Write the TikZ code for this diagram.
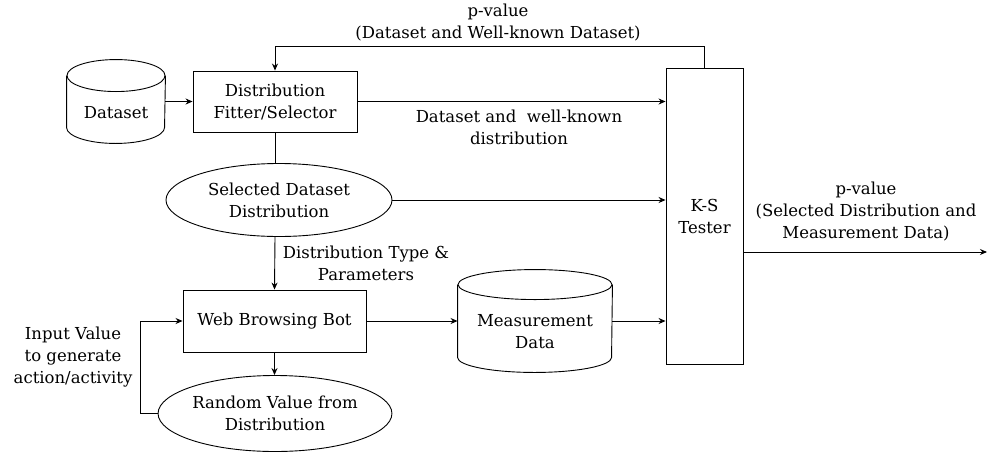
\documentclass[tikz,border=0pt]{standalone}
\usepackage{fontspec}
\setmainfont{DejaVu Serif}
\usetikzlibrary{shapes.geometric,arrows.meta}

\tikzset{
    every node/.style={font=\fontsize{16.5}{22}\selectfont, align=center},
    box/.style={draw, rectangle, inner sep=0pt},
    oval/.style={draw, ellipse, inner sep=0pt},
    dbbox/.style={rectangle, inner sep=0pt},
    flow/.style={-{Stealth[length=7pt,width=6pt]}, line width=0.9pt},
    plain/.style={line width=0.9pt},
}

\begin{document}
\begin{tikzpicture}[x=1pt, y=-1pt, line width=0.9pt]
    % canvas in pixels of the 987 x 453 sketch
    \useasboundingbox (0,0) rectangle (987,453);

    % Blocks
    \node[dbbox, minimum width=98pt, minimum height=83pt] (dataset) at (116,101.5) {};
    \node[box, minimum width=164pt, minimum height=61pt] (fitter) at (275,101.5) {Distribution\\Fitter/Selector};
    \node[box, minimum width=77pt, minimum height=296pt] (tester) at (704.5,216) {K-S\\Tester};
    \node[oval, minimum width=226pt, minimum height=73pt] (selected) at (279,200) {Selected Dataset\\Distribution};
    \node[box, minimum width=183pt, minimum height=62pt] (bot) at (274.5,321) {Web Browsing Bot};
    \node[dbbox, minimum width=154pt, minimum height=102pt] (measure) at (535,321) {};
    \node[oval, minimum width=228pt, minimum height=76pt] (random) at (275,413.5) {Random Value from\\Distribution};

    % Cylinders drawn round the two data nodes
    \draw ([yshift=-16pt]dataset.north) ellipse [x radius=49pt, y radius=16pt];
    \draw ([yshift=-16pt]dataset.north west) -- ([yshift=16pt]dataset.south west)
        arc [start angle=180, end angle=360, x radius=49pt, y radius=16pt]
        -- ([yshift=-16pt]dataset.north east);
    \draw ([yshift=-15pt]measure.north) ellipse [x radius=77pt, y radius=15pt];
    \draw ([yshift=-15pt]measure.north west) -- ([yshift=15pt]measure.south west)
        arc [start angle=180, end angle=360, x radius=77pt, y radius=15pt]
        -- ([yshift=-15pt]measure.north east);
    \node (datasettext) at ([yshift=-11pt]dataset.center) {Dataset};
    \node (measuretext) at ([yshift=-11pt]measure.center) {Measurement\\Data};

    % Connectors
    \draw[flow] (dataset.east) -- (fitter.west);
    \draw[flow] (fitter.east) -- (fitter.east -| tester.west);
    \draw[flow] (tester.north) -- ++(0,-21) -| (fitter.north);
    \draw[plain] (fitter.south) -- (fitter.south |- selected.north);
    \draw[flow] (selected.east) -- (selected.east -| tester.west);
    \draw[flow] (fitter.south |- selected.south) -- (bot.north);
    \draw[flow] (bot.east) -- (measure.west);
    \draw[flow] (measure.east) -- (measure.east -| tester.west);
    \draw[flow] (bot.south) -- (bot.south |- random.north);
    \draw[flow] (random.west) -- ++(-17,0) |- (bot.west);
    \coordinate (result) at (987,252);
    \draw[flow] (tester.east |- result) -- (result);

    % Labels
    \node (lbltop) at (498,23) {p-value\\(Dataset and Well-known Dataset)};
    \node (lblfit) at (519,127) {Dataset and \ well-known\\distribution};
    \node (lbltype) at (366,263) {Distribution Type \&\\Parameters};
    \node (lblinput) at (73,357) {Input Value\\to generate\\action/activity};
    \node (lblout) at (866,212) {p-value\\(Selected Distribution and\\Measurement Data)};
\end{tikzpicture}
\end{document}
